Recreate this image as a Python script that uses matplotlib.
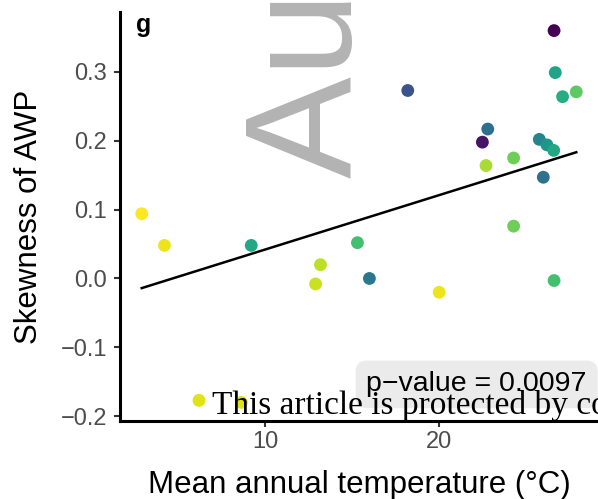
import matplotlib
matplotlib.use('Agg')
import matplotlib.pyplot as plt
import numpy as np

plt.rcParams['font.family'] = ['Liberation Sans', 'DejaVu Sans']

# values
temperature = [2.88, 4.19, 9.19, 6.18, 8.62, 12.9, 13.18, 15.31, 16.0, 18.21, 20.02, 22.51, 22.72,
               22.82, 24.31, 24.31, 25.79, 26.02, 26.23, 26.62, 26.64, 26.64, 26.71, 27.13, 27.92]
skewness = [0.094, 0.048, 0.048, -0.177, -0.180, -0.008, 0.020, 0.052, 0.000, 0.273, -0.020, 0.198, 0.164,
            0.217, 0.175, 0.076, 0.202, 0.147, 0.194, 0.186, 0.360, -0.003, 0.299, 0.264, 0.271]
colour_value = [1.0, 0.97, 0.6, 0.95, 0.95, 0.92, 0.9, 0.7, 0.4, 0.25, 0.97, 0.05, 0.87,
                0.36, 0.78, 0.78, 0.45, 0.37, 0.52, 0.6, 0.0, 0.7, 0.58, 0.62, 0.75]
fit_slope = 0.00788
fit_intercept = -0.0367
y_ticks = [-0.2, -0.1, 0.0, 0.1, 0.2, 0.3]
x_ticks = [10, 20]
p_label = 'p\u2212value = 0.0097'

fig = plt.figure(figsize=(5.98, 4.99), dpi=100)
ax = fig.add_axes([120 / 598, 78 / 499, 478 / 598, 409 / 499])

ax.scatter(temperature, skewness, c=colour_value, cmap='viridis', vmin=0, vmax=1,
           s=85, linewidths=0, zorder=2)

line_x = np.array([min(temperature), max(temperature)])
ax.plot(line_x, fit_intercept + fit_slope * line_x, color='black', lw=1.8, zorder=3)

ax.set_yticks(y_ticks)
ax.set_yticklabels([f'{v:.1f}'.replace('-', '\u2212') for v in y_ticks])
ax.set_xticks(x_ticks)

# ggplot style 5% expansion (set after the ticks so they don't widen it)
xr = max(temperature) - min(temperature)
yr = max(skewness) - min(skewness)
ax.set_xlim(min(temperature) - 0.05 * xr, max(temperature) + 0.05 * xr)
ax.set_ylim(min(skewness) - 0.05 * yr, max(skewness) + 0.05 * yr)

for side in ['top', 'right']:
    ax.spines[side].set_visible(False)
for side in ['left', 'bottom']:
    ax.spines[side].set_linewidth(2.2)
    ax.spines[side].set_color('black')
ax.tick_params(axis='both', length=4.3, width=1.5, color='#333333', labelcolor='#4d4d4d', labelsize=17)
ax.tick_params(axis='y', pad=5)
ax.tick_params(axis='x', pad=3)

ax.set_ylabel('Skewness of AWP', fontsize=22.5)
ax.set_xlabel('Mean annual temperature (\u00b0C)', fontsize=22.5)
ax.yaxis.set_label_coords(-0.158, 0.5)
ax.xaxis.set_label_coords(0.5, -0.1186)

ax.text(15.83, -0.164, p_label, ha='left', va='baseline', fontsize=20.5, color='black', zorder=4,
        bbox=dict(boxstyle='round,pad=0.38', fc='#ebebeb', ec='none'))

fig.text(136 / 598, 1 - 32 / 499, 'g', fontsize=18, fontweight='bold', ha='left', va='baseline')

# watermarks from the source page
fig.text(352 / 598, 1 - 178 / 499, 'Author Manuscript', rotation=90, rotation_mode='anchor',
         ha='left', va='baseline', fontsize=110, color='#b3b3b3')
fig.text(212 / 598, 1 - 414.3 / 499, 'This article is protected by copyright. All rights reserved',
         family='Liberation Serif', fontsize=24, ha='left', va='baseline', color='black')

fig.savefig('out.png', dpi=100)
